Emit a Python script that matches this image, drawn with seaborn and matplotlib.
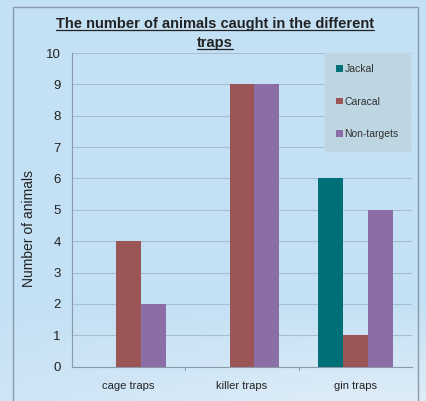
import matplotlib
matplotlib.use("Agg")
import matplotlib.pyplot as plt
import seaborn as sns
import pandas as pd
import numpy as np
from matplotlib.patches import Rectangle
from matplotlib.lines import Line2D

categories = ["cage traps", "killer traps", "gin traps"]
series = ["Jackal", "Caracal", "Non-targets"]
jackal = [0, 0, 6]
caracal = [4, 9, 1]
non_targets = [2, 9, 5]
yticks = list(range(0, 11))
title_lines = ["The number of animals caught in the different", "traps"]

df = pd.DataFrame({
    "trap": categories * 3,
    "animal": [series[0]] * 3 + [series[1]] * 3 + [series[2]] * 3,
    "count": jackal + caracal + non_targets,
})

sns.set_theme(style="white")
plt.rcParams["font.family"] = ["Liberation Sans", "DejaVu Sans"]

W, H = 426, 401
bg = "#c4e0f4"
fig = plt.figure(figsize=(W / 100, H / 100), dpi=100, facecolor=bg)

# subtle sky gradient background
bgax = fig.add_axes([0, 0, 1, 1], zorder=-10)
grad = np.ones((100, 100, 3))
yy, xx = np.mgrid[0:1:100j, 0:1:100j]
base = np.array([0xc4, 0xe0, 0xf4]) / 255.0
light = np.array([0xdc, 0xec, 0xf8]) / 255.0
t = np.clip((yy - 0.75) / 0.25, 0, 1) * np.clip(0.4 + xx * 0.8, 0, 1)
for c in range(3):
    grad[..., c] = base[c] * (1 - t) + light[c] * t
bgax.imshow(grad, extent=[0, 1, 0, 1], aspect="auto", origin="upper")
bgax.axis("off")

fig.patches.append(Rectangle((13 / W, -0.1), (418 - 13) / W, 1.1 - 7 / H,
                             transform=fig.transFigure, fill=False,
                             edgecolor="#8a9aa8", linewidth=1.0, zorder=-5))

ax = fig.add_axes([72 / W, (H - 366.7) / H, (412 - 72) / W, (366.7 - 53) / H])
ax.set_facecolor("none")

palette = {"Jackal": "#007078", "Caracal": "#9b5556", "Non-targets": "#8a6ea5"}
sns.barplot(data=df, x="trap", y="count", hue="animal", order=categories,
            hue_order=series, palette=palette, width=0.66, saturation=1,
            linewidth=0, ax=ax, zorder=3)

ax.set_ylim(0, 10)
ax.set_yticks(yticks)
ax.set_yticklabels([str(v) for v in yticks], fontsize=9.5, color="#222222")
ax.set_xlim(-0.5, 2.5)
ax.tick_params(axis="x", length=0, labelsize=8, colors="#222222", pad=10)
ax.tick_params(axis="y", length=2, width=0.6, color="#8a9aa8", pad=6)
ax.grid(axis="y", color="#a6bfd0", linewidth=0.8, zorder=0)
for s in ["top", "right"]:
    ax.spines[s].set_visible(False)
for s in ["left", "bottom"]:
    ax.spines[s].set_color("#8a9aa8")
    ax.spines[s].set_linewidth(0.8)
for xb in [0.5, 1.5]:
    ax.plot([xb, xb], [0, -0.12], color="#8a9aa8", lw=0.8, clip_on=False)

ax.set_xlabel("")
ax.set_ylabel("Number of animals", fontsize=10, color="#222222")
ax.yaxis.set_label_coords(-0.106, 0.442)

title_texts = []
for i, line in enumerate(title_lines):
    tt = fig.text(215 / W, 1 - (24 + 19 * i) / H, line, ha="center", va="center",
                  fontsize=10.5, fontweight="bold", color="#222222")
    title_texts.append(tt)

leg = ax.legend(loc="upper right", bbox_to_anchor=(0.995, 1.0), frameon=True,
                fontsize=7.5, handlelength=0.6, handleheight=0.6, handletextpad=0.2,
                labelspacing=2.15, borderpad=1.1, borderaxespad=0.0, fancybox=False)
leg.get_frame().set_facecolor("#bdd6e2")
leg.get_frame().set_edgecolor("#bdd6e2")
leg.get_frame().set_alpha(1)
for t_ in leg.get_texts():
    t_.set_color("#333333")

fig.canvas.draw()
r = fig.canvas.get_renderer()
for tt in title_texts:
    bb = tt.get_window_extent(r)
    yl = (bb.y0 + 1.5) / H
    fig.add_artist(Line2D([bb.x0 / W, bb.x1 / W], [yl, yl], transform=fig.transFigure,
                          color="#222222", lw=0.9))

fig.savefig("out.png", dpi=100, facecolor=bg)
